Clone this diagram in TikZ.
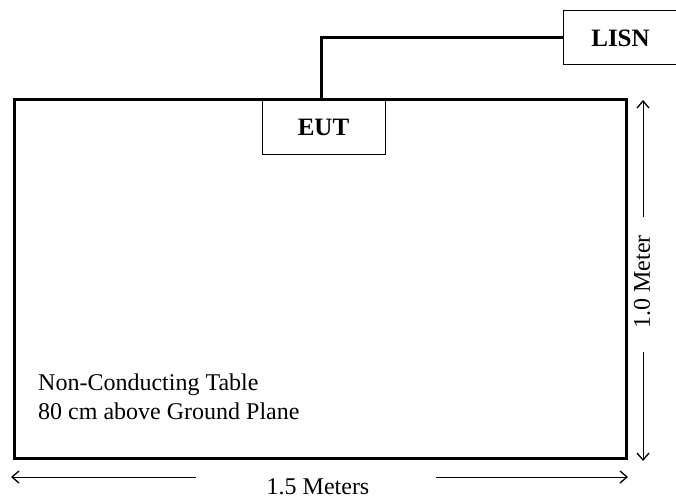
\documentclass[tikz,border=0pt]{standalone}
\usepackage{fontspec}
\setmainfont{Liberation Serif}
\usepackage{tikz}
\usetikzlibrary{shapes, arrows.meta}
\tikzstyle{table} = [draw, rectangle, line width=3pt, minimum width=612pt, minimum height=358pt, inner sep=0pt, anchor=north west]
\tikzstyle{block} = [draw, rectangle, line width=1pt, font=\fontsize{25}{30}\selectfont\bfseries, inner sep=0pt]
\tikzstyle{cable} = [line width=3pt]
\tikzstyle{dim} = [line width=0.9pt, -{Straight Barb[length=7pt,width=12pt,line width=1.3pt]}]
\tikzstyle{label} = [font=\fontsize{24}{29}\selectfont, inner sep=0pt]

\begin{document}
\begin{tikzpicture}[x=1pt, y=-1pt]
    \useasboundingbox (0,0) rectangle (676,500);

    % table, EUT and LISN
    \node [table] (table) at (12.5,98.5) {};
    \node [block, minimum width=123pt, minimum height=54pt] (eut) at (323.5,127) {EUT};
    \node [block, minimum width=115pt, minimum height=54pt] (lisn) at (620.5,38) {LISN};
    \coordinate (plug) at (321,98.5);
    \draw [cable] (plug) |- (lisn.west);

    % table text
    \node [label, anchor=base west] (txt1) at (38,390) {Non-Conducting Table};
    \node [label, anchor=base west] (txt2) at (38,419) {80 cm above Ground Plane};

    % 1.0 Meter
    \node [label, rotate=90] (hlabel) at (642,282) {1.0 Meter};
    \coordinate (vtop) at (643,100);
    \coordinate (vtopgap) at (643,217);
    \coordinate (vbotgap) at (643,352);
    \coordinate (vbot) at (643,461);
    \draw [dim] (vtopgap) -- (vtop);
    \draw [dim] (vbotgap) -- (vbot);

    % 1.5 Meters
    \node [label, anchor=base] (wlabel) at (318,494) {1.5 Meters};
    \coordinate (wleft) at (11,477);
    \coordinate (wleftgap) at (196,477);
    \coordinate (wrightgap) at (436,477);
    \coordinate (wright) at (628,477);
    \draw [dim] (wleftgap) -- (wleft);
    \draw [dim] (wrightgap) -- (wright);
\end{tikzpicture}
\end{document}
